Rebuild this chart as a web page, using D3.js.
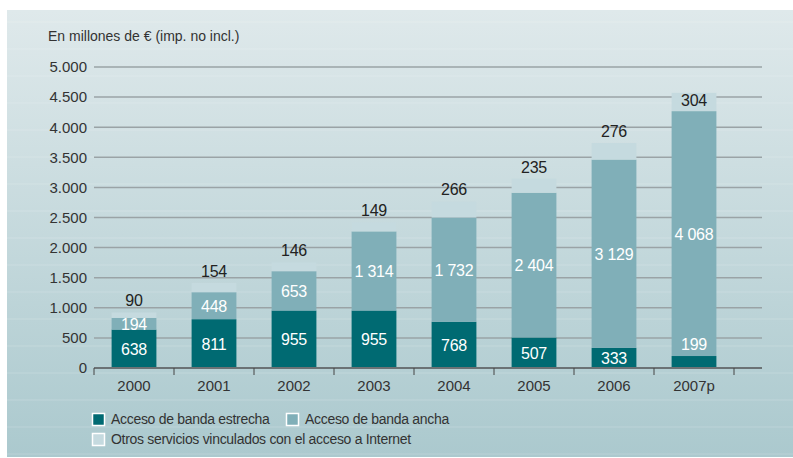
<!DOCTYPE html>
<meta charset="utf-8">
<style>
body { margin: 0; background: #fff; }
svg { display: block; font-family: "Liberation Sans", Arial, sans-serif; }
.grid line { stroke: #9aa3a6; stroke-width: 1.5px; }
.y-axis text, .x-axis text { font-size: 15px; fill: #333; }
.val { font-size: 16px; fill: #fff; text-anchor: middle; letter-spacing: -0.2px; }
.tot { font-size: 16px; fill: #222; text-anchor: middle; letter-spacing: -0.2px; }
.legend text { font-size: 14px; fill: #333; letter-spacing: -0.3px; }
</style>
<svg width="793" height="458"></svg>
<script src="https://d3js.org/d3.v7.min.js"></script>
<script>
var years = ["2000", "2001", "2002", "2003", "2004", "2005", "2006", "2007p"];
var estrecha = [638, 811, 955, 955, 768, 507, 333, 199];
var ancha = [194, 448, 653, 1314, 1732, 2404, 3129, 4068];
var otros = [90, 154, 146, 149, 266, 235, 276, 304];
var yTicks = [0, 500, 1000, 1500, 2000, 2500, 3000, 3500, 4000, 4500, 5000];
var seriesNames = ["Acceso de banda estrecha", "Acceso de banda ancha", "Otros servicios vinculados con el acceso a Internet"];
var colors = ["#006a72", "#80afb8", "#c5dadf"];

var svg = d3.select("svg");

// panel background
var defs = svg.append("defs");
var grad = defs.append("linearGradient").attr("id", "bg")
    .attr("x1", 0).attr("y1", 0).attr("x2", 0).attr("y2", 1);
grad.append("stop").attr("offset", "0%").attr("stop-color", "#dfe9eb");
grad.append("stop").attr("offset", "100%").attr("stop-color", "#abc9ce");

svg.append("rect")
    .attr("x", 7).attr("y", 10).attr("width", 786).attr("height", 447)
    .attr("fill", "url(#bg)");

// faint stripes
svg.append("g").selectAll("line")
    .data(d3.range(22, 457, 27))
  .enter().append("line")
    .attr("x1", 7).attr("x2", 793)
    .attr("y1", function(d) { return d; }).attr("y2", function(d) { return d; })
    .attr("stroke", "#ffffff").attr("stroke-opacity", 0.18);

var x = d3.scaleBand().domain(years).range([94, 734]).paddingInner(0.44).paddingOuter(0.22);
var y = d3.scaleLinear().domain([0, 5000]).range([368, 67]);

svg.append("text")
    .attr("x", 48).attr("y", 41)
    .style("font-size", "14px").attr("fill", "#333")
    .text("En millones de € (imp. no incl.)");

// gridlines
svg.append("g").attr("class", "grid")
    .selectAll("line")
    .data(yTicks.slice(1))
  .enter().append("line")
    .attr("x1", 94).attr("x2", 762)
    .attr("y1", function(d) { return y(d); }).attr("y2", function(d) { return y(d); });

// y labels
svg.append("g").attr("class", "y-axis")
    .attr("transform", "translate(94,0)")
    .call(d3.axisLeft(y).tickValues(yTicks).tickSize(0).tickPadding(7)
      .tickFormat(function(d) { return d3.format(",")(d).replace(/,/g, "."); }))
    .call(function(g) { g.select(".domain").remove(); });

// stacks
var data = years.map(function(yr, i) {
  return {year: yr, s0: estrecha[i], s1: ancha[i], s2: otros[i]};
});
var stack = d3.stack().keys(["s0", "s1", "s2"])(data);

var layers = svg.append("g").selectAll("g")
    .data(stack)
  .enter().append("g")
    .attr("fill", function(d, i) { return colors[i]; });

layers.selectAll("rect")
    .data(function(d) { return d; })
  .enter().append("rect")
    .attr("x", function(d) { return x(d.data.year); })
    .attr("width", x.bandwidth())
    .attr("y", function(d) { return y(d[1]); })
    .attr("height", function(d) { return y(d[0]) - y(d[1]); });

// x axis
svg.append("line")
    .attr("x1", 94).attr("x2", 762).attr("y1", 368).attr("y2", 368)
    .attr("stroke", "#6b7275").attr("stroke-width", 2);

svg.append("g").selectAll("line")
    .data(d3.range(years.length + 1))
  .enter().append("line")
    .attr("x1", function(i) { return 94 + i * x.step(); })
    .attr("x2", function(i) { return 94 + i * x.step(); })
    .attr("y1", 368).attr("y2", 375)
    .attr("stroke", "#444").attr("stroke-width", 1);

svg.append("g").attr("class", "x-axis")
    .selectAll("text")
    .data(years)
  .enter().append("text")
    .attr("x", function(d) { return x(d) + x.bandwidth() / 2; })
    .attr("y", 391)
    .attr("text-anchor", "middle")
    .text(function(d) { return d; });

// value labels inside segments
function fmt(v) { return d3.format(",")(v).replace(/,/g, " "); }

[0, 1].forEach(function(k) {
  svg.append("g").selectAll("text")
      .data(stack[k])
    .enter().append("text")
      .attr("class", "val")
      .attr("x", function(d) { return x(d.data.year) + x.bandwidth() / 2; })
      .attr("y", function(d) {
        var h = y(d[0]) - y(d[1]);
        // small dark segments get their label just above
        if (k === 0 && h < 16) return y(d[1]) - 6;
        return (y(d[0]) + y(d[1])) / 2 + 6;
      })
      .text(function(d) { return fmt(d[1] - d[0]); });
});

// totals above bars (kept below the top gridline area)
svg.append("g").selectAll("text")
    .data(stack[2])
  .enter().append("text")
    .attr("class", "tot")
    .attr("x", function(d) { return x(d.data.year) + x.bandwidth() / 2; })
    .attr("y", function(d) { return Math.max(y(d[1]) - 6, y(4350)); })
    .text(function(d) { return fmt(d[1] - d[0]); });

// legend
var legendPos = [[92, 413], [286, 413], [92, 433]];
var lg = svg.append("g").attr("class", "legend")
    .selectAll("g")
    .data(seriesNames)
  .enter().append("g")
    .attr("transform", function(d, i) { return "translate(" + legendPos[i][0] + "," + legendPos[i][1] + ")"; });
lg.append("rect")
    .attr("x", 0.5).attr("y", 0.5).attr("width", 12).attr("height", 12)
    .attr("fill", function(d, i) { return colors[i]; })
    .attr("stroke", "#fff").attr("stroke-width", 1.5);
lg.append("text")
    .attr("x", 19).attr("y", 11)
    .text(function(d) { return d; });
</script>
